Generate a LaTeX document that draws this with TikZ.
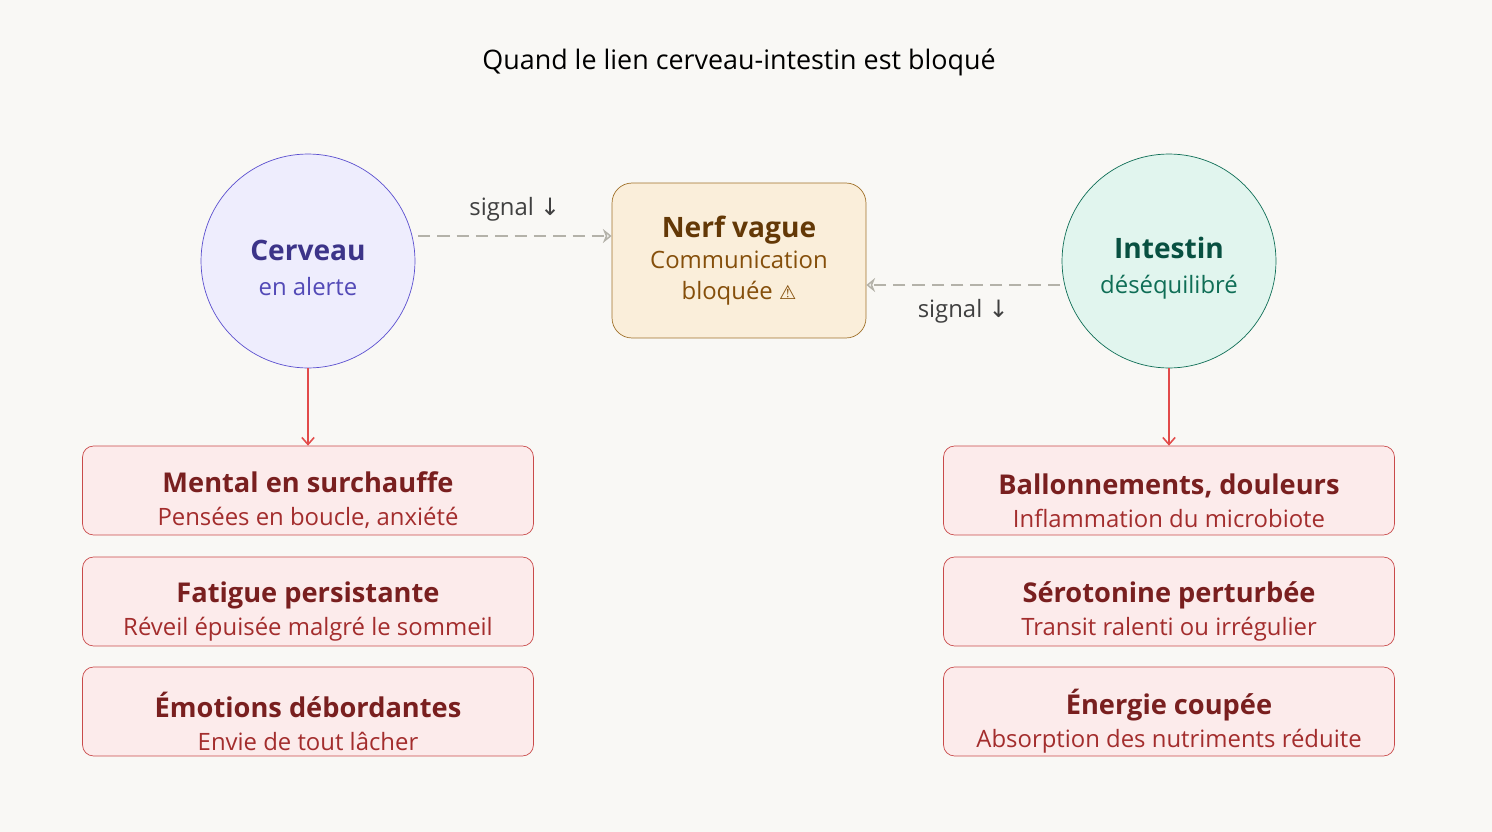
\documentclass[tikz,border=0pt]{standalone}
\usepackage{fontspec}
\setmainfont{Open Sans}
\newfontfamily\symfont{DejaVu Sans}
\usetikzlibrary{arrows.meta,positioning}
\definecolor{bg}{HTML}{F9F8F5}
\definecolor{brainfill}{HTML}{EEEDFD}
\definecolor{braindraw}{HTML}{5B4FCF}
\definecolor{braintitle}{HTML}{3C3489}
\definecolor{brainsub}{HTML}{534AB7}
\definecolor{gutfill}{HTML}{E1F5EE}
\definecolor{gutdraw}{HTML}{0F6E56}
\definecolor{guttitle}{HTML}{085041}
\definecolor{nervefill}{HTML}{FAEEDA}
\definecolor{nervedraw}{HTML}{A0712A}
\definecolor{nervetitle}{HTML}{633806}
\definecolor{nervesub}{HTML}{854F0B}
\definecolor{symfill}{HTML}{FCEBEB}
\definecolor{symdraw}{HTML}{C94A4A}
\definecolor{symtitle}{HTML}{791F1F}
\definecolor{symsub}{HTML}{A32D2D}
\definecolor{redarrow}{HTML}{E24B4A}
\definecolor{signalgray}{HTML}{B4B2A9}
\begin{document}
\begin{tikzpicture}[x=0.02cm, y=-0.02cm, node distance=0.42cm,
      organ/.style={circle, minimum size=4.28cm, inner sep=0pt, align=center, font=\fontsize{13.6}{20}\selectfont},
      symptom/.style={rectangle, rounded corners=0.22cm, draw=symdraw, fill=symfill, minimum width=9.02cm, minimum height=1.78cm, align=center, inner sep=0pt},
      signal/.style={->, >={Stealth[open,length=5pt,width=8pt]}, signalgray, line width=1.4pt, dash pattern=on 7pt off 4pt},
      alarm/.style={->, >={Straight Barb[length=4pt,width=7pt]}, redarrow, line width=0.9pt},
      lbl/.style={text=black!75, font=\fontsize{13.6}{16}\selectfont}]

  \fill[bg] (0,0) rectangle (1492,832);
  \node at (739,62) {\fontsize{15.3}{18}\selectfont Quand le lien cerveau-intestin est bloqué};

  % Organs
  \node[organ, draw=braindraw, fill=brainfill] (brain) at (308,261) {};
  \node[organ, draw=gutdraw, fill=gutfill] (gut) at (1169,261) {};
  \node[align=center, font=\fontsize{13.6}{20}\selectfont] at (308,268)
    {\textcolor{braintitle}{\fontsize{16}{20}\selectfont\bfseries Cerveau}\\\textcolor{brainsub}{en alerte}};
  \node[align=center, font=\fontsize{13.6}{20}\selectfont] at (1169,268)
    {\textcolor{guttitle}{\fontsize{16}{20}\selectfont\bfseries Intestin}\\\textcolor{gutdraw}{déséquilibré}};
  \node[rectangle, rounded corners=0.4cm, draw=nervedraw, fill=nervefill, minimum width=5.08cm, minimum height=3.1cm, align=center,
        font=\fontsize{13.6}{17.5}\selectfont] (nerve) at (739,260.5)
    {\textcolor{nervetitle}{\fontsize{16}{19}\selectfont\bfseries Nerf vague}\\\textcolor{nervesub}{Communication}\\\textcolor{nervesub}{bloquée {\symfont\fontsize{11}{12}\selectfont ⚠}}};

  % Signals
  \coordinate (b1) at (418,236);
  \coordinate (g1) at (1060,285);
  \draw[signal] (b1) -- (nerve.west |- b1) node[lbl, midway, above=0.16cm] {signal {\symfont ↓}};
  \draw[signal] (g1) -- (nerve.east |- g1) node[lbl, midway, below=0.14cm] {signal {\symfont ↓}};

  % Symptoms
  \foreach \side/\x/\organ in {l/308/brain, r/1169/gut} {
    \node[symptom] (\side1) at (\x,490.5) {};
    \node[symptom] (\side2) at (\x,601.5) {};
    \node[symptom] (\side3) at (\x,711.5) {};
    \draw[alarm] (\organ) -- (\side1.north);
  }
  \foreach \n/\t/\s in {l1/Mental en surchauffe/{Pensées en boucle, anxiété},
                        l2/Fatigue persistante/Réveil épuisée malgré le sommeil,
                        l3/Émotions débordantes/Envie de tout lâcher,
                        r1/{Ballonnements, douleurs}/Inflammation du microbiote,
                        r2/Sérotonine perturbée/Transit ralenti ou irrégulier,
                        r3/Énergie coupée/Absorption des nutriments réduite} {
    \node[align=center, font=\fontsize{13.6}{18.7}\selectfont] at ([yshift=-0.2cm]\n)
      {\textcolor{symtitle}{\fontsize{15.5}{18.7}\selectfont\bfseries \t}\\\textcolor{symsub}{\s}};
  }
\end{tikzpicture}
\end{document}
